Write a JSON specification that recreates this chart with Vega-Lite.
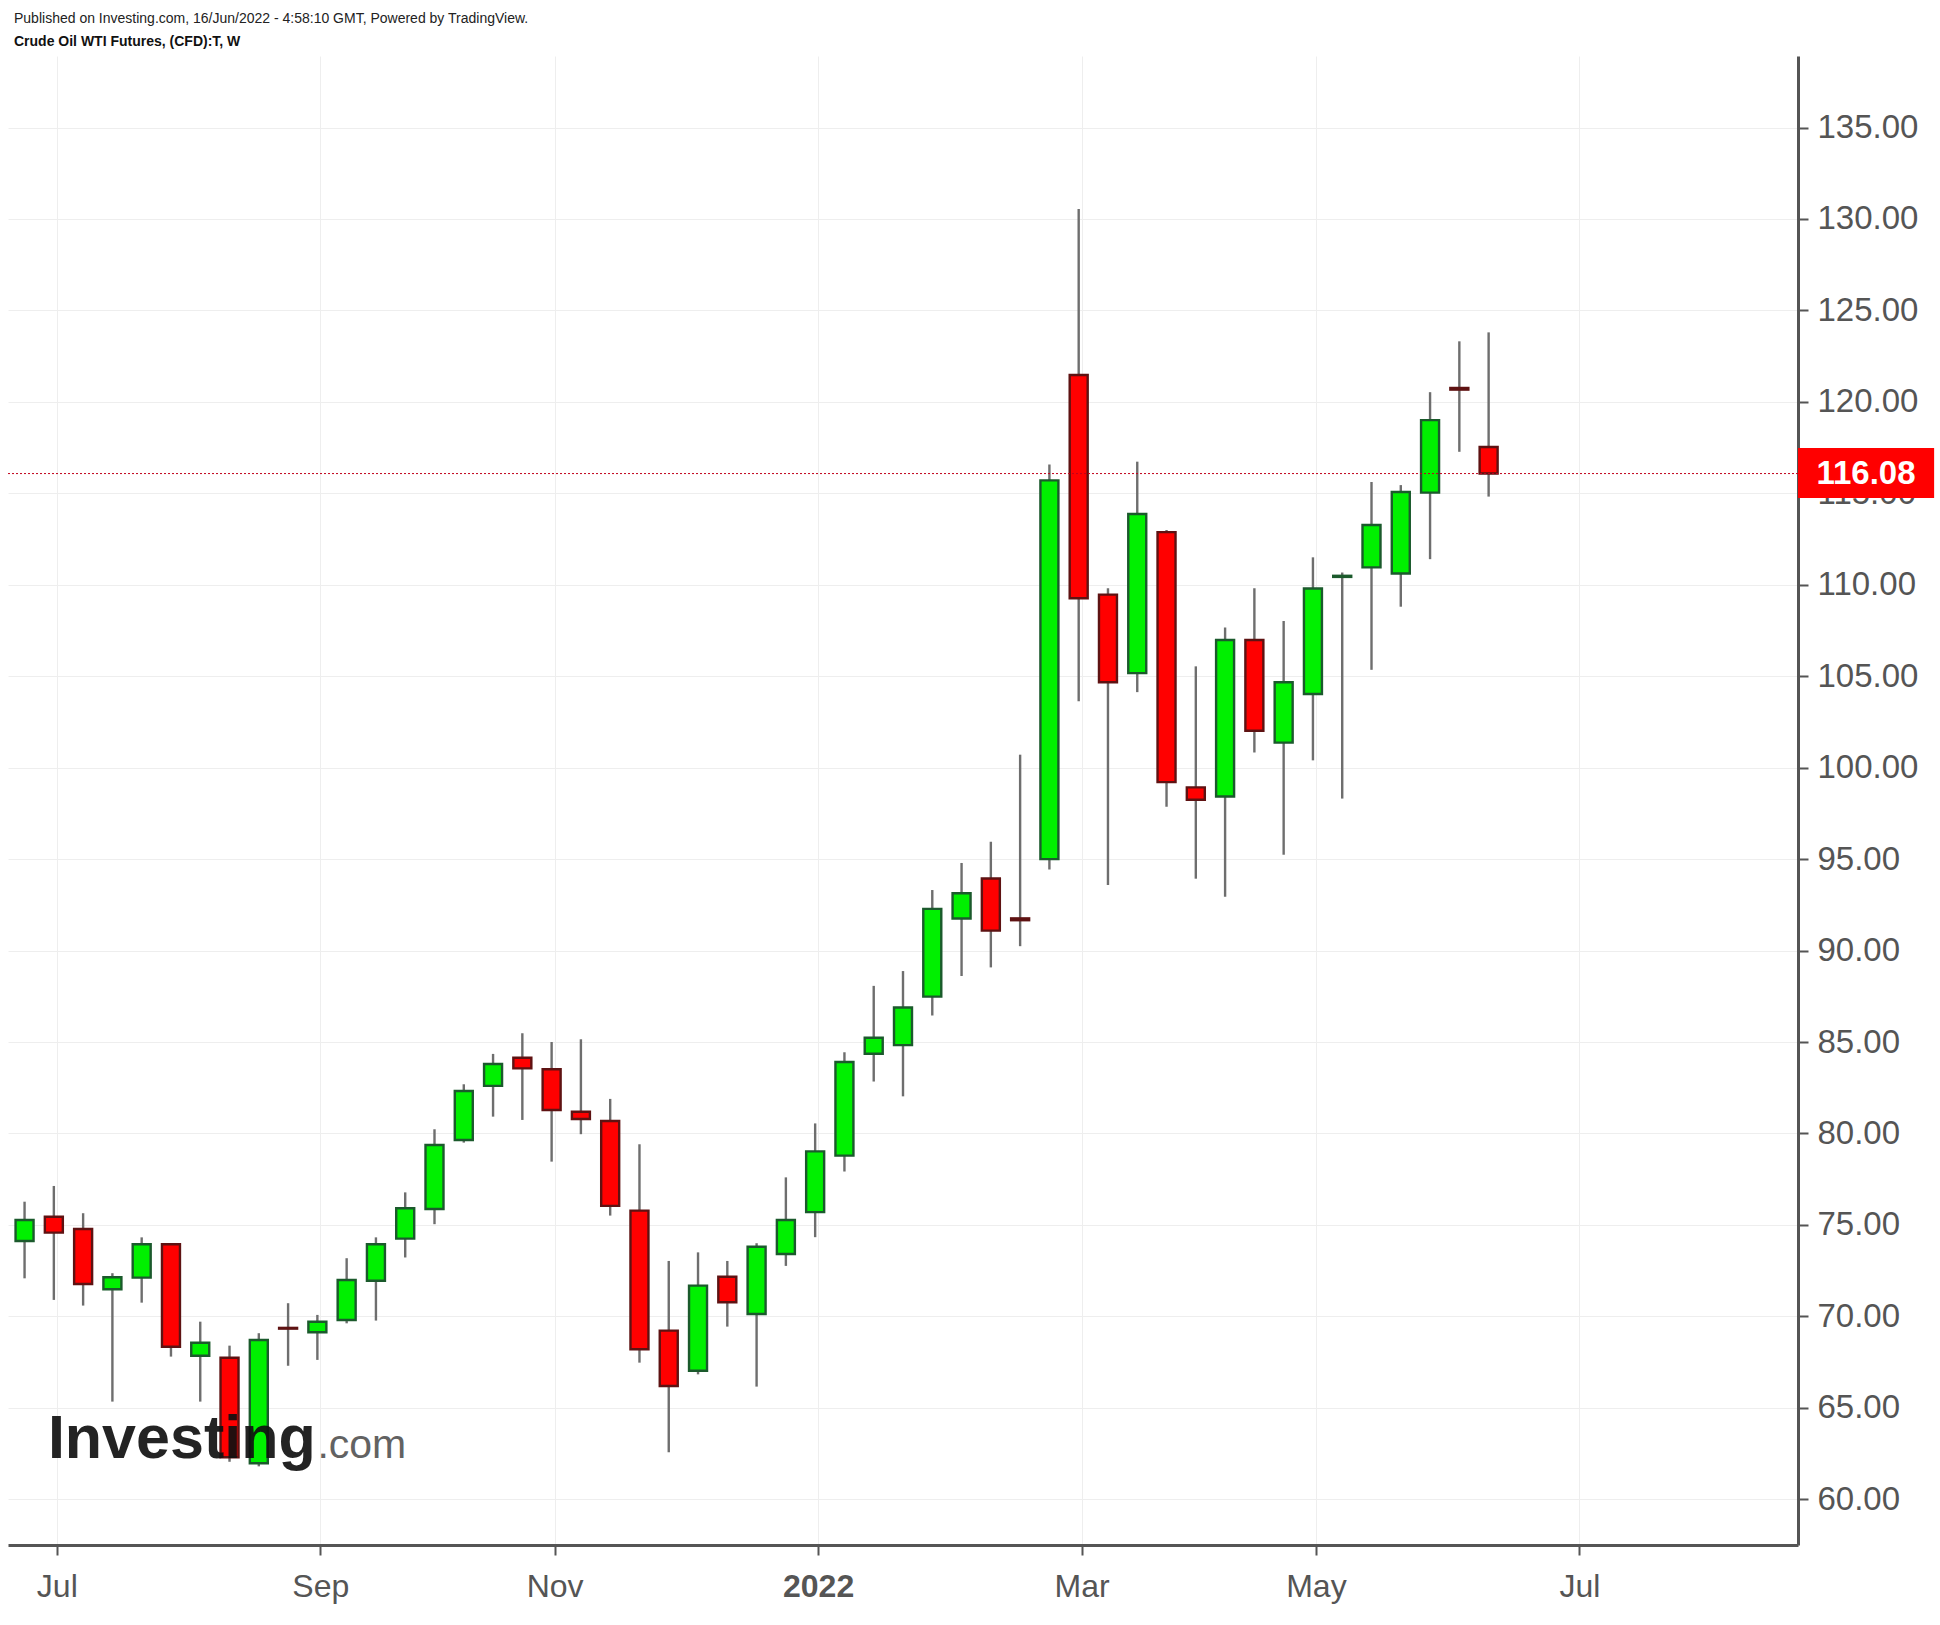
{
  "$schema": "https://vega.github.io/schema/vega-lite/v6.json",
  "autosize": "none",
  "width": 1790,
  "height": 1489,
  "padding": {"left": 8, "top": 56, "right": 142, "bottom": 80},
  "background": "white",
  "title": {
    "text": "Published on Investing.com, 16/Jun/2022 - 4:58:10 GMT, Powered by TradingView.",
    "subtitle": "Crude Oil WTI Futures, (CFD):T, W",
    "anchor": "start",
    "frame": "group",
    "font": "Liberation Sans",
    "fontSize": 14,
    "fontWeight": "normal",
    "color": "#222222",
    "subtitleFont": "Liberation Sans",
    "subtitleFontSize": 14,
    "subtitleFontWeight": "bold",
    "subtitleColor": "#111111",
    "subtitlePadding": 9,
    "offset": 7,
    "dx": 6
  },
  "config": {"view": {"stroke": null}},
  "datasets": {
    "candles": [
      {"date": "2021-06-28", "open": 74.12, "high": 76.27, "low": 72.08, "close": 75.27},
      {"date": "2021-07-05", "open": 75.45, "high": 77.13, "low": 70.90, "close": 74.58},
      {"date": "2021-07-12", "open": 74.78, "high": 75.64, "low": 70.59, "close": 71.77},
      {"date": "2021-07-19", "open": 71.48, "high": 72.36, "low": 65.34, "close": 72.14},
      {"date": "2021-07-26", "open": 72.12, "high": 74.32, "low": 70.75, "close": 73.94},
      {"date": "2021-08-02", "open": 73.94, "high": 74.00, "low": 67.80, "close": 68.34},
      {"date": "2021-08-09", "open": 67.85, "high": 69.71, "low": 65.34, "close": 68.56},
      {"date": "2021-08-16", "open": 67.74, "high": 68.40, "low": 62.05, "close": 62.30},
      {"date": "2021-08-23", "open": 61.97, "high": 69.08, "low": 61.80, "close": 68.71},
      {"date": "2021-08-30", "open": 69.37, "high": 70.72, "low": 67.30, "close": 69.33},
      {"date": "2021-09-06", "open": 69.13, "high": 70.08, "low": 67.62, "close": 69.71},
      {"date": "2021-09-13", "open": 69.80, "high": 73.18, "low": 69.62, "close": 71.99},
      {"date": "2021-09-20", "open": 71.95, "high": 74.32, "low": 69.77, "close": 73.94},
      {"date": "2021-09-27", "open": 74.25, "high": 76.78, "low": 73.22, "close": 75.91},
      {"date": "2021-10-04", "open": 75.87, "high": 80.23, "low": 75.04, "close": 79.37},
      {"date": "2021-10-11", "open": 79.64, "high": 82.69, "low": 79.50, "close": 82.32},
      {"date": "2021-10-18", "open": 82.60, "high": 84.35, "low": 80.92, "close": 83.80},
      {"date": "2021-10-25", "open": 84.14, "high": 85.48, "low": 80.74, "close": 83.56},
      {"date": "2021-11-01", "open": 83.51, "high": 85.00, "low": 78.46, "close": 81.28},
      {"date": "2021-11-08", "open": 81.19, "high": 85.15, "low": 79.96, "close": 80.79},
      {"date": "2021-11-15", "open": 80.68, "high": 81.89, "low": 75.51, "close": 76.04},
      {"date": "2021-11-22", "open": 75.78, "high": 79.41, "low": 67.47, "close": 68.20},
      {"date": "2021-11-29", "open": 69.22, "high": 73.03, "low": 62.57, "close": 66.19},
      {"date": "2021-12-06", "open": 67.03, "high": 73.50, "low": 66.83, "close": 71.68},
      {"date": "2021-12-13", "open": 72.17, "high": 73.03, "low": 69.44, "close": 70.77},
      {"date": "2021-12-20", "open": 70.13, "high": 74.00, "low": 66.16, "close": 73.81},
      {"date": "2021-12-27", "open": 73.41, "high": 77.60, "low": 72.76, "close": 75.27},
      {"date": "2022-01-03", "open": 75.70, "high": 80.55, "low": 74.33, "close": 79.02},
      {"date": "2022-01-10", "open": 78.79, "high": 84.44, "low": 77.92, "close": 83.91},
      {"date": "2022-01-17", "open": 84.36, "high": 88.07, "low": 82.84, "close": 85.23},
      {"date": "2022-01-24", "open": 84.83, "high": 88.88, "low": 82.03, "close": 86.89},
      {"date": "2022-01-31", "open": 87.48, "high": 93.31, "low": 86.45, "close": 92.28},
      {"date": "2022-02-07", "open": 91.75, "high": 94.79, "low": 88.61, "close": 93.13},
      {"date": "2022-02-14", "open": 93.94, "high": 95.95, "low": 89.08, "close": 91.09},
      {"date": "2022-02-21", "open": 91.76, "high": 100.71, "low": 90.24, "close": 91.66},
      {"date": "2022-02-28", "open": 95.00, "high": 116.58, "low": 94.43, "close": 115.71},
      {"date": "2022-03-07", "open": 121.47, "high": 130.55, "low": 103.63, "close": 109.26},
      {"date": "2022-03-14", "open": 109.46, "high": 109.81, "low": 93.58, "close": 104.67},
      {"date": "2022-03-21", "open": 105.17, "high": 116.73, "low": 104.13, "close": 113.87},
      {"date": "2022-03-28", "open": 112.88, "high": 113.00, "low": 97.87, "close": 99.21},
      {"date": "2022-04-04", "open": 98.92, "high": 105.54, "low": 93.93, "close": 98.25},
      {"date": "2022-04-11", "open": 98.42, "high": 107.67, "low": 92.94, "close": 106.98},
      {"date": "2022-04-18", "open": 106.98, "high": 109.81, "low": 100.83, "close": 102.02},
      {"date": "2022-04-25", "open": 101.37, "high": 108.02, "low": 95.24, "close": 104.67},
      {"date": "2022-05-02", "open": 104.03, "high": 111.50, "low": 100.40, "close": 109.80},
      {"date": "2022-05-09", "open": 110.43, "high": 110.67, "low": 98.31, "close": 110.49},
      {"date": "2022-05-16", "open": 110.95, "high": 115.62, "low": 105.35, "close": 113.27},
      {"date": "2022-05-23", "open": 110.62, "high": 115.45, "low": 108.80, "close": 115.07},
      {"date": "2022-05-30", "open": 115.04, "high": 120.53, "low": 111.40, "close": 119.00},
      {"date": "2022-06-06", "open": 120.76, "high": 123.31, "low": 117.27, "close": 120.67},
      {"date": "2022-06-13", "open": 117.53, "high": 123.80, "low": 114.82, "close": 116.08}
    ]
  },
  "layer": [
    {
      "data": {"name": "candles"},
      "mark": {"type": "rule", "color": "#6e6e6e", "strokeWidth": 2.4},
      "encoding": {
        "x": {
          "field": "date",
          "type": "temporal",
          "scale": {
            "type": "utc",
            "padding": 0,
            "domain": [
              {"year": 2021, "month": 6, "date": 24, "hours": 1, "utc": true},
              {"year": 2022, "month": 8, "date": 25, "hours": 23, "utc": true}
            ]
          },
          "axis": {
            "orient": "bottom",
            "title": null,
            "values": [
              {"year": 2021, "month": 7, "date": 5, "hours": 17, "utc": true},
              {"year": 2021, "month": 9, "date": 6, "hours": 17, "utc": true},
              {"year": 2021, "month": 11, "date": 1, "hours": 17, "utc": true},
              {"year": 2022, "month": 1, "date": 3, "hours": 17, "utc": true},
              {"year": 2022, "month": 3, "date": 7, "hours": 17, "utc": true},
              {"year": 2022, "month": 5, "date": 2, "hours": 17, "utc": true},
              {"year": 2022, "month": 7, "date": 4, "hours": 17, "utc": true}
            ],
            "labelExpr": "utcmonth(datum.value) == 0 ? utcFormat(datum.value, '%Y') : utcFormat(datum.value, '%b')",
            "labelFontWeight": {"condition": {"test": "utcmonth(datum.value) == 0", "value": "bold"}, "value": "normal"},
            "labelFont": "Liberation Sans",
            "labelFontSize": 32,
            "labelColor": "#555555",
            "labelPadding": 16,
            "labelFlush": false,
            "labelOverlap": false,
            "grid": true,
            "gridColor": "#eeeeee",
            "gridWidth": 1,
            "domainColor": "#555555",
            "domainWidth": 3,
            "tickColor": "#555555",
            "tickWidth": 2,
            "tickSize": 10,
            "zindex": 0
          }
        },
        "y": {
          "field": "low",
          "type": "quantitative",
          "scale": {"domain": [57.5, 138.91], "nice": false, "zero": false, "padding": 0},
          "axis": {
            "orient": "right",
            "title": null,
            "values": [60, 65, 70, 75, 80, 85, 90, 95, 100, 105, 110, 115, 120, 125, 130, 135],
            "format": ".2f",
            "labelFont": "Liberation Sans",
            "labelFontSize": 33,
            "labelColor": "#555555",
            "labelPadding": 9,
            "labelFlush": false,
            "labelOverlap": false,
            "grid": true,
            "gridColor": "#eeeeee",
            "gridWidth": 1,
            "domainColor": "#555555",
            "domainWidth": 3,
            "tickColor": "#555555",
            "tickWidth": 2,
            "tickSize": 10,
            "zindex": 0
          }
        },
        "y2": {"field": "high"}
      }
    },
    {
      "data": {"name": "candles"},
      "mark": {"type": "bar", "size": 18, "strokeWidth": 2.4},
      "encoding": {
        "x": {"field": "date", "type": "temporal"},
        "y": {"field": "open", "type": "quantitative"},
        "y2": {"field": "close"},
        "fill": {"condition": {"test": "datum.close >= datum.open", "value": "#00f000"}, "value": "#ff0000"},
        "stroke": {"condition": {"test": "datum.close >= datum.open", "value": "#1b5a2c"}, "value": "#5e1212"}
      }
    },
    {
      "data": {"values": [{}]},
      "mark": {"type": "rule", "color": "#c0001a", "strokeDash": [2, 2], "strokeWidth": 1},
      "encoding": {"y": {"datum": 116.08, "type": "quantitative"}}
    },
    {
      "data": {"values": [{}]},
      "mark": {"type": "text", "font": "Liberation Sans", "fontSize": 61, "fontWeight": "bold", "color": "#111111", "align": "left", "baseline": "alphabetic", "opacity": 0.92},
      "encoding": {
        "x": {"datum": {"year": 2021, "month": 7, "date": 3, "hours": 14, "utc": true}, "type": "temporal"},
        "y": {"datum": 62.26, "type": "quantitative"},
        "text": {"value": "Investing"}
      }
    },
    {
      "data": {"values": [{}]},
      "mark": {"type": "text", "font": "Liberation Sans", "fontSize": 41, "fontWeight": "normal", "color": "#555555", "align": "right", "baseline": "alphabetic", "opacity": 0.92},
      "encoding": {
        "x": {"datum": {"year": 2021, "month": 9, "date": 27, "hours": 6, "utc": true}, "type": "temporal"},
        "y": {"datum": 62.26, "type": "quantitative"},
        "text": {"value": ".com"}
      }
    },
    {
      "data": {"values": [{}]},
      "mark": {"type": "rect", "color": "#ff0000"},
      "encoding": {
        "x": {"datum": {"year": 2022, "month": 8, "date": 25, "hours": 23, "utc": true}, "type": "temporal"},
        "x2": {"datum": {"year": 2022, "month": 9, "date": 27, "hours": 12, "utc": true}},
        "y": {"datum": 117.48, "type": "quantitative"},
        "y2": {"datum": 114.75}
      }
    },
    {
      "data": {"values": [{}]},
      "mark": {"type": "text", "font": "Liberation Sans", "fontSize": 33, "fontWeight": "bold", "color": "#ffffff", "align": "center", "baseline": "middle"},
      "encoding": {
        "x": {"datum": {"year": 2022, "month": 9, "date": 11, "hours": 5, "utc": true}, "type": "temporal"},
        "y": {"datum": 116.08, "type": "quantitative"},
        "text": {"value": "116.08"}
      }
    }
  ]
}
